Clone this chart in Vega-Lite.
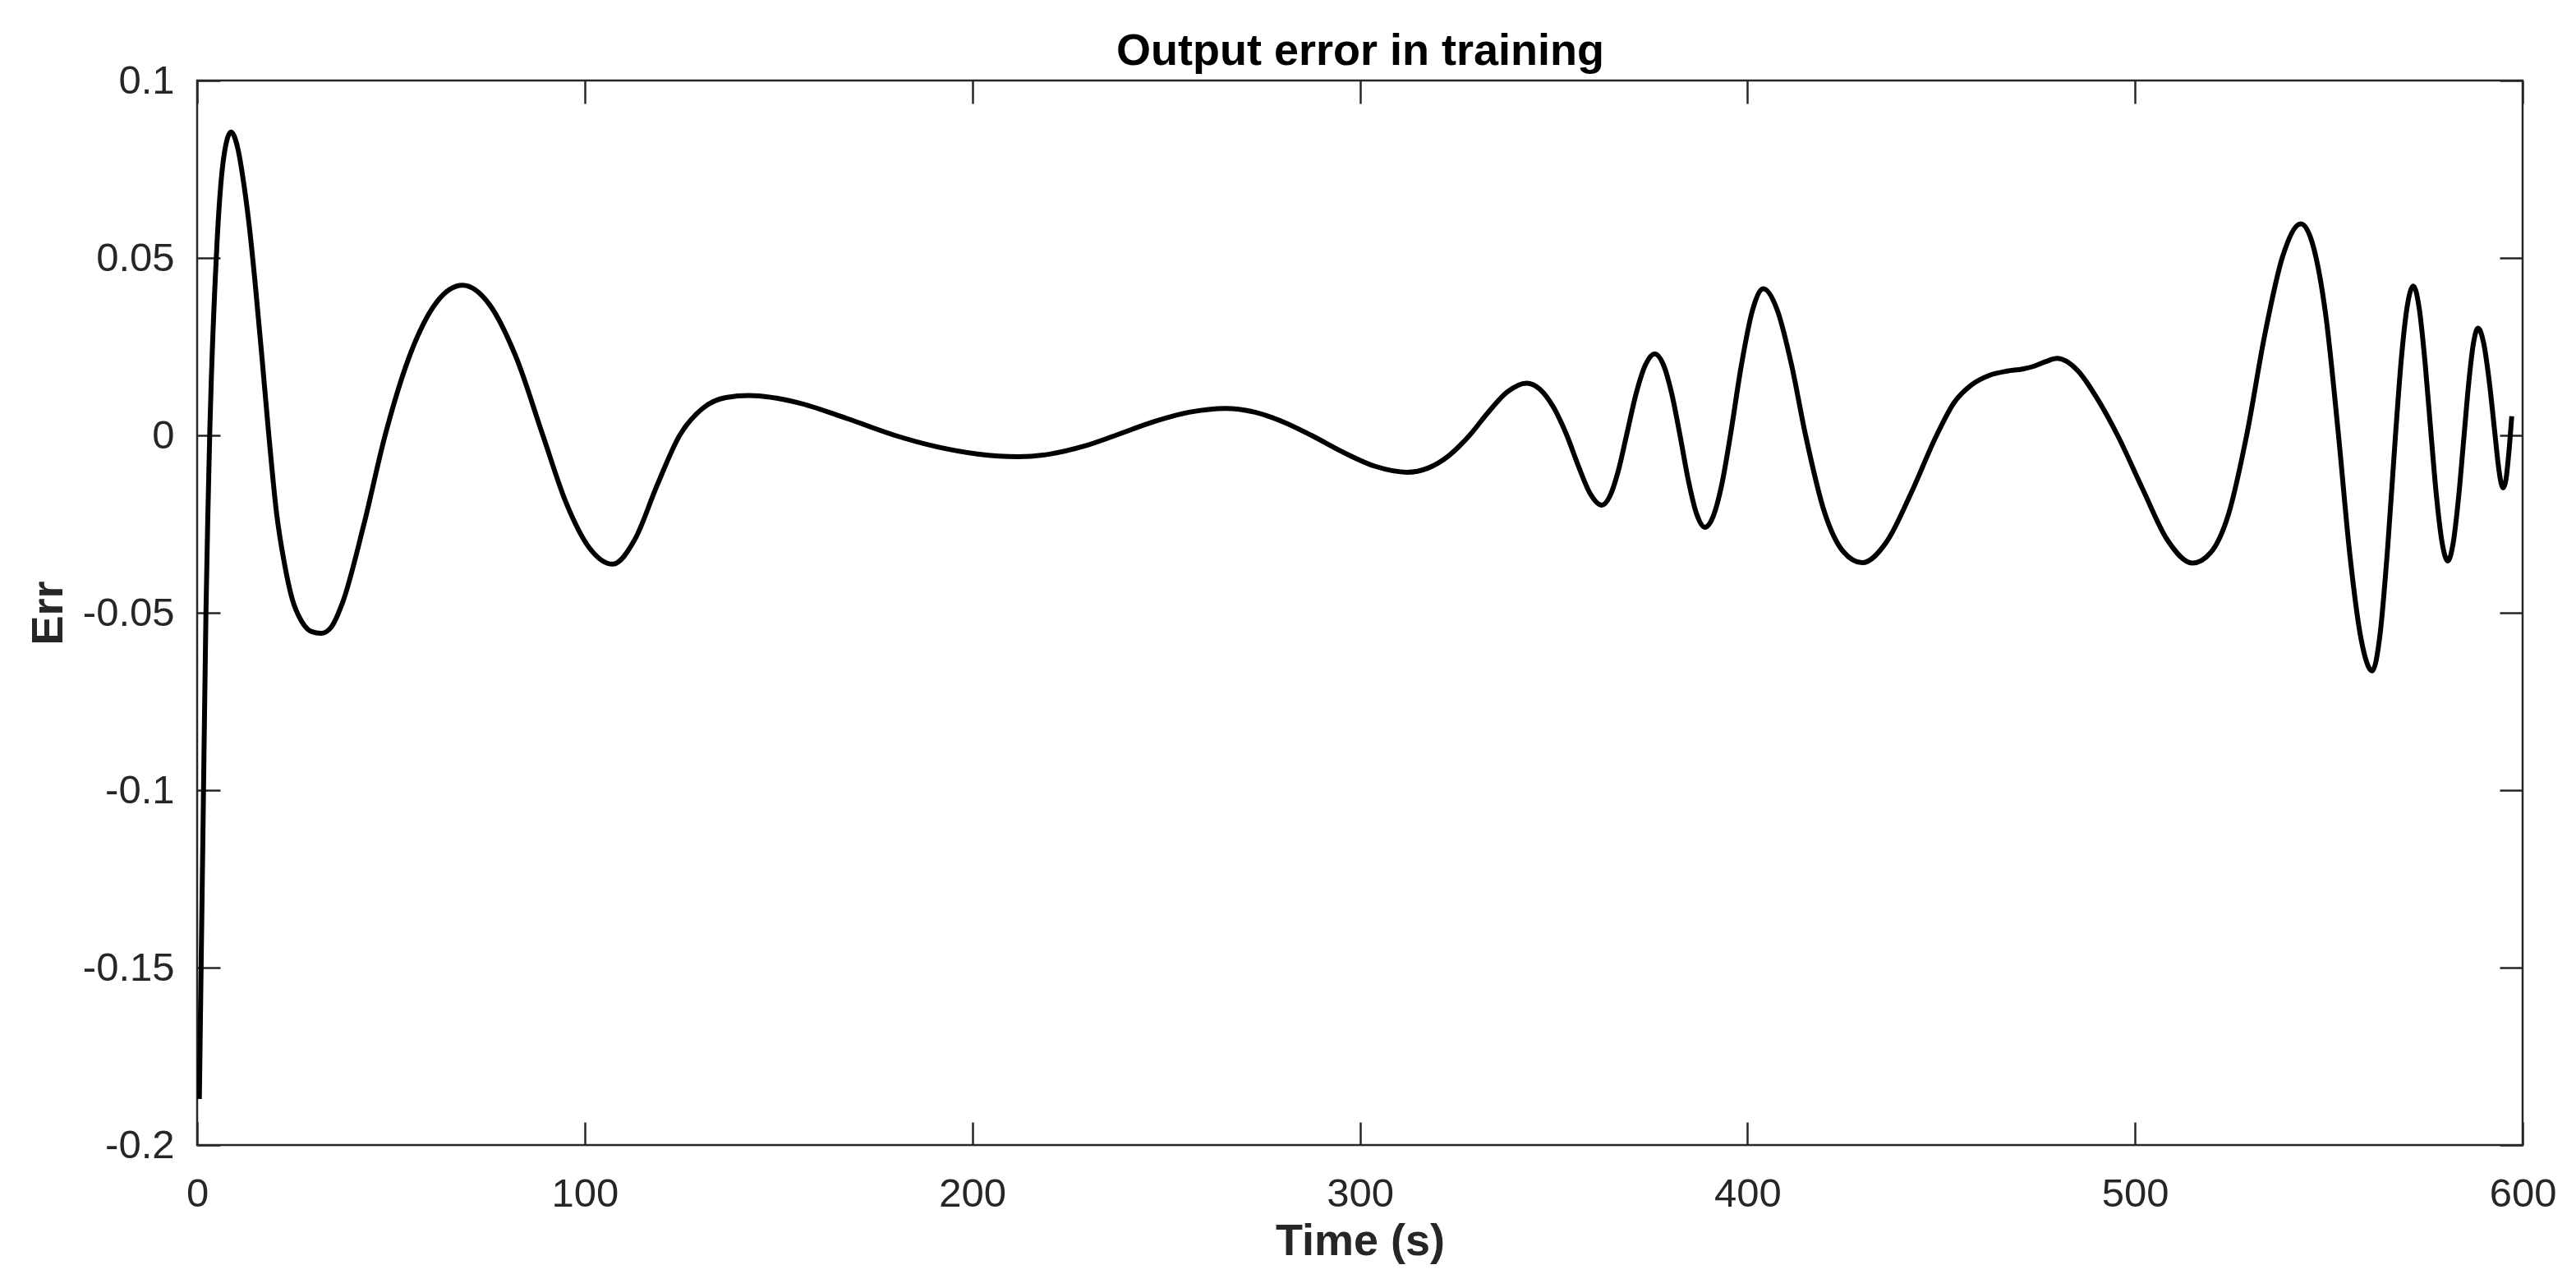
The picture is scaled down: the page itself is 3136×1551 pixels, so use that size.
{
  "$schema": "https://vega.github.io/schema/vega-lite/v6.json",
  "width": 2831,
  "height": 1296,
  "autosize": {"type": "none"},
  "padding": {"left": 240, "top": 98, "right": 65, "bottom": 157},
  "background": "white",
  "config": {
    "view": {"stroke": "#262626", "strokeWidth": 2.5},
    "axis": {
      "domain": false,
      "grid": false,
      "tickColor": "#262626",
      "tickWidth": 2.5,
      "tickSize": -28,
      "labelFont": "Liberation Sans",
      "labelFontSize": 49,
      "labelColor": "#262626",
      "titleFont": "Liberation Sans",
      "titleFontSize": 54,
      "titleFontWeight": "bold",
      "titleColor": "#262626",
      "labelFlush": false,
      "labelOverlap": false
    }
  },
  "data": {
    "values": [
      {"t": 0.57, "err": -0.187}, {"t": 1.0, "err": -0.152}, {"t": 1.5, "err": -0.112}, {"t": 2.27, "err": -0.05},
      {"t": 2.75, "err": -0.023}, {"t": 3.24, "err": 0.0}, {"t": 5.08, "err": 0.0532}, {"t": 6.92, "err": 0.0788},
      {"t": 8.76, "err": 0.0855}, {"t": 10.5, "err": 0.0808}, {"t": 12.0, "err": 0.0712}, {"t": 13.5, "err": 0.0585},
      {"t": 15.0, "err": 0.0425}, {"t": 16.8, "err": 0.021}, {"t": 18.5, "err": 0.0}, {"t": 20.5, "err": -0.022},
      {"t": 22.5, "err": -0.036}, {"t": 24.5, "err": -0.046}, {"t": 27.0, "err": -0.0525}, {"t": 29.5, "err": -0.0553},
      {"t": 32.0, "err": -0.0558}, {"t": 34.5, "err": -0.0542}, {"t": 37.5, "err": -0.0472}, {"t": 43.0, "err": -0.0252}, {"t": 48.5, "err": 0.0},
      {"t": 55.17, "err": 0.0234}, {"t": 61.83, "err": 0.0376}, {"t": 68.5, "err": 0.0423}, {"t": 75.4, "err": 0.0369},
      {"t": 82.3, "err": 0.022}, {"t": 89.2, "err": 0.0}, {"t": 95.2, "err": -0.019}, {"t": 101.2, "err": -0.0317},
      {"t": 107.2, "err": -0.0363}, {"t": 113.0, "err": -0.0292}, {"t": 118.7, "err": -0.014}, {"t": 124.5, "err": 0.0},
      {"t": 130.47, "err": 0.00763}, {"t": 136.43, "err": 0.01066}, {"t": 142.4, "err": 0.0112}, {"t": 154.9, "err": 0.00924},
      {"t": 167.5, "err": 0.0048}, {"t": 180.0, "err": 0.0}, {"t": 190.6, "err": -0.00316}, {"t": 201.3, "err": -0.00525},
      {"t": 211.9, "err": -0.006}, {"t": 220.27, "err": -0.00523}, {"t": 228.63, "err": -0.00312}, {"t": 237.0, "err": 0.0},
      {"t": 246.47, "err": 0.00374}, {"t": 255.93, "err": 0.00651}, {"t": 265.4, "err": 0.0076}, {"t": 272.77, "err": 0.00656},
      {"t": 280.13, "err": 0.00384}, {"t": 287.5, "err": 0.0}, {"t": 295.73, "err": -0.00478}, {"t": 303.97, "err": -0.00874},
      {"t": 312.2, "err": -0.0104}, {"t": 317.57, "err": -0.00923}, {"t": 322.93, "err": -0.00575}, {"t": 328.3, "err": 0.0},
      {"t": 333.2, "err": 0.0066}, {"t": 338.1, "err": 0.01228}, {"t": 343.0, "err": 0.0147}, {"t": 346.47, "err": 0.01297},
      {"t": 349.93, "err": 0.00797}, {"t": 353.4, "err": 0.0}, {"t": 356.4, "err": -0.0087}, {"t": 359.4, "err": -0.01639},
      {"t": 362.4, "err": -0.0197}, {"t": 364.53, "err": -0.01706}, {"t": 366.67, "err": -0.01004}, {"t": 368.8, "err": 0.0},
      {"t": 371.23, "err": 0.01159}, {"t": 373.67, "err": 0.01985}, {"t": 376.1, "err": 0.023}, {"t": 378.27, "err": 0.02002},
      {"t": 380.43, "err": 0.01193}, {"t": 382.6, "err": 0.0}, {"t": 384.73, "err": -0.01258}, {"t": 386.87, "err": -0.02212},
      {"t": 389.0, "err": -0.0259}, {"t": 391.2, "err": -0.0227}, {"t": 393.4, "err": -0.01373}, {"t": 395.6, "err": 0.0},
      {"t": 398.43, "err": 0.01976}, {"t": 401.27, "err": 0.03512}, {"t": 404.1, "err": 0.0413}, {"t": 407.73, "err": 0.03518},
      {"t": 411.37, "err": 0.01989}, {"t": 415.0, "err": 0.0}, {"t": 419.87, "err": -0.02164}, {"t": 424.73, "err": -0.03276},
      {"t": 429.6, "err": -0.0359}, {"t": 436.0, "err": -0.02986}, {"t": 442.4, "err": -0.01585}, {"t": 448.8, "err": 0.0},
      {"t": 453.3, "err": 0.0092}, {"t": 457.8, "err": 0.0142}, {"t": 462.4, "err": 0.0169}, {"t": 467.0, "err": 0.0181},
      {"t": 471.0, "err": 0.0187}, {"t": 474.0, "err": 0.0195}, {"t": 477.0, "err": 0.0208}, {"t": 479.9, "err": 0.0217},
      {"t": 485.1, "err": 0.01839}, {"t": 490.3, "err": 0.01026}, {"t": 495.5, "err": 0.0}, {"t": 501.93, "err": -0.01504},
      {"t": 508.37, "err": -0.02952}, {"t": 514.8, "err": -0.036}, {"t": 519.47, "err": -0.0331}, {"t": 524.13, "err": -0.02218},
      {"t": 528.8, "err": 0.0}, {"t": 533.47, "err": 0.0283}, {"t": 538.13, "err": 0.05058}, {"t": 542.8, "err": 0.0596},
      {"t": 546.03, "err": 0.0531}, {"t": 549.27, "err": 0.03337}, {"t": 552.5, "err": 0.0}, {"t": 555.4, "err": -0.03335},
      {"t": 558.3, "err": -0.05725}, {"t": 561.2, "err": -0.0664}, {"t": 563.2, "err": -0.0563}, {"t": 565.2, "err": -0.03144},
      {"t": 567.2, "err": 0.0}, {"t": 568.73, "err": 0.02182}, {"t": 570.27, "err": 0.03664}, {"t": 571.8, "err": 0.0421},
      {"t": 573.33, "err": 0.03577}, {"t": 574.87, "err": 0.02008}, {"t": 576.4, "err": 0.0}, {"t": 577.83, "err": -0.01775},
      {"t": 579.27, "err": -0.03051}, {"t": 580.7, "err": -0.0354}, {"t": 582.1, "err": -0.03026}, {"t": 583.5, "err": -0.01725},
      {"t": 584.9, "err": 0.0}, {"t": 586.1, "err": 0.01476}, {"t": 587.3, "err": 0.02584}, {"t": 588.5, "err": 0.0302},
      {"t": 589.97, "err": 0.02588}, {"t": 591.43, "err": 0.01485}, {"t": 592.9, "err": 0.0}, {"t": 593.6, "err": -0.00719},
      {"t": 594.3, "err": -0.01264}, {"t": 595.0, "err": -0.0148}, {"t": 595.7, "err": -0.0125}, {"t": 596.4, "err": -0.0055},
      {"t": 597.2, "err": 0.0054}
    ]
  },
  "layer": [
    {
      "mark": {"type": "line", "color": "#000000", "strokeWidth": 6, "interpolate": "monotone", "clip": true},
      "encoding": {
        "x": {
          "field": "t", "type": "quantitative",
          "scale": {"domain": [0, 600], "nice": false, "zero": false},
          "axis": {
            "orient": "bottom",
            "values": [0, 100, 200, 300, 400, 500, 600],
            "labelPadding": 63,
            "title": "Time (s)",
            "titleBaseline": "alphabetic",
            "titleY": 133
          }
        },
        "y": {
          "field": "err", "type": "quantitative",
          "scale": {"domain": [-0.2, 0.1], "nice": false, "zero": false},
          "axis": {
            "orient": "left",
            "values": [-0.2, -0.15, -0.1, -0.05, 0, 0.05, 0.1],
            "labelPadding": 56,
            "labelExpr": "datum.value == 0 ? '0' : (datum.value < 0 ? '-' : '') + format(abs(datum.value), '~g')",
            "title": "Err",
            "titleAngle": 270,
            "titleBaseline": "alphabetic",
            "titleX": -165
          }
        }
      }
    },
    {
      "mark": {"type": "line", "strokeOpacity": 0},
      "encoding": {
        "x": {
          "field": "t", "type": "quantitative",
          "axis": {
            "orient": "top",
            "values": [0, 100, 200, 300, 400, 500, 600],
            "labels": false,
            "title": "Output error in training",
            "titleColor": "#000000",
            "titleFontSize": 54,
            "titleBaseline": "alphabetic",
            "titleAlign": "center",
            "titleX": 1415.5,
            "titleY": -20
          }
        },
        "y": {
          "field": "err", "type": "quantitative",
          "axis": {"orient": "right", "values": [-0.2, -0.15, -0.1, -0.05, 0, 0.05, 0.1], "labels": false, "title": null}
        }
      }
    }
  ],
  "resolve": {"axis": {"x": "independent", "y": "independent"}}
}
